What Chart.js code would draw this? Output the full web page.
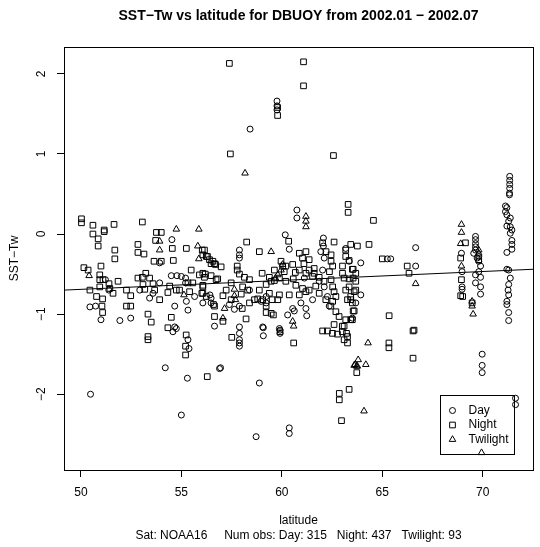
<!DOCTYPE html>
<html>
<head>
<meta charset="utf-8">
<script src="https://cdn.jsdelivr.net/npm/chart.js@4.4.1/dist/chart.umd.min.js"></script>
<style>
	html, body { margin: 0; padding: 0; background: #fff; }
	canvas { display: block; }
</style>
</head>
<body>
<canvas id="sstChart" width="540" height="547"></canvas>
<script>
/* globals Chart:false */
// [latitude, SST-Tw]
const dayObs = [
	[54.53,-0.07],[53.92,-0.36],[51.22,-0.57],[51.39,-0.70],[50.45,-0.91],[50.73,-0.90],[51.00,-1.07],[51.94,-1.08],
	[52.48,-1.05],[53.42,-0.80],[53.59,-0.74],[54.50,-0.52],[54.78,-0.52],[55.00,-0.53],[55.21,-0.55],[55.21,-0.61],
	[55.66,-0.78],[55.25,-0.84],[55.33,-0.95],[54.67,-0.90],[56.48,-0.80],[56.48,-0.86],[56.65,-1.15],[54.67,-1.16],
	[60.75,0.30],[60.75,0.20],[60.17,-0.01],[57.89,-0.20],[57.89,-0.26],[57.89,-0.30],[60.37,-0.19],[62.07,-0.05],
	[62.07,-0.15],[61.94,-0.22],[62.11,-0.30],[62.03,-0.45],[61.86,-0.59],[62.11,-0.66],[62.27,-0.78],[62.36,-0.90],
	[61.12,-0.55],[56.42,-0.76],[57.64,-0.94],[57.89,-0.90],[58.97,-0.84],[59.22,-0.86],[60.29,-1.01],[60.54,-0.93],
	[60.62,-0.96],[60.95,-0.86],[61.24,-1.02],[61.20,-0.93],[63.18,-0.18],[63.35,-0.34],[63.68,-0.86],[57.89,-1.16],
	[59.05,-1.16],[59.88,-1.18],[65.25,-0.31],[65.42,-0.31],[66.66,-0.17],[66.66,-0.40],[63.93,-0.36],[63.93,-0.76],
	[63.51,-1.05],[68.97,-0.47],[68.97,-0.66],[68.94,-0.24],[68.97,-0.69],
	[69.64,-0.03],[69.64,-0.07],[69.64,-0.12],[69.64,-0.16],[69.64,-0.20],[69.55,-0.24],[69.80,-0.28],[69.72,-0.30],
	[69.80,-0.34],[69.89,-0.40],[69.80,-0.47],[69.64,-0.51],[69.89,-0.54],[69.64,-0.61],[69.89,-0.66],[69.89,-0.75],
	[71.33,0.51],[71.33,0.49],[71.13,0.35],[71.20,0.33],[71.13,0.28],[71.20,0.24],[71.37,0.20],[71.29,0.16],
	[71.20,0.10],[71.37,0.09],[71.45,0.05],[71.37,0.01],[71.45,-0.08],[71.45,-0.13],[71.45,-0.19],[71.20,-0.23],
	[71.20,-0.44],[71.29,-0.45],[71.37,-0.55],[71.29,-0.63],[71.26,-0.70],[71.29,-0.76],[71.20,-0.84],[71.20,-0.88],
	[71.29,-0.98],[71.29,-1.08],[71.34,0.72],[71.34,0.67],[71.34,0.62],[71.34,0.57],
	[59.76,1.66],[59.76,1.60],[59.76,1.55],[58.42,1.31],
	[54.75,-1.18],[54.58,-1.22],[55.33,-1.32],[55.38,-1.43],[54.20,-1.67],[55.30,-1.80],[56.90,-1.68],[50.48,-2.00],
	[55.00,-2.26],[57.89,-1.24],[59.08,-1.27],[59.91,-1.20],[59.91,-1.24],[57.89,-1.32],[57.89,-1.36],[57.89,-1.40],
	[56.95,-1.67],[58.88,-1.86],[58.72,-2.53],[60.37,-2.42],[60.37,-2.49],[59.08,-1.17],
	[69.97,-1.50],[69.97,-1.64],[69.97,-1.73],[71.63,-2.05],[71.63,-2.13],
	[61.53,-0.82],[59.22,-0.78],[58.39,-0.70],[57.39,-0.88],[52.93,-0.70],[53.92,-0.61],[56.07,-0.86]
];

const nightObs = [
	[50.03,0.19],[50.03,0.14],[50.60,0.11],[50.60,0.00],[50.86,-0.06],[50.86,-0.15],[51.16,0.05],[51.16,0.03],
	[51.65,0.12],[51.69,-0.20],[51.69,-0.31],[53.06,0.15],[52.84,-0.13],[52.84,-0.23],[53.14,-0.25],[53.76,0.02],
	[54.00,0.02],[53.72,-0.08],[53.64,-0.34],[54.00,-0.34],[54.55,-0.18],[55.25,-0.18],[54.60,-0.33],[56.04,-0.20],
	[56.30,-0.28],[56.57,-0.34],[56.70,-0.38],[50.15,-0.42],[50.36,-0.45],[51.00,-0.40],[50.94,-0.51],[50.94,-0.57],
	[51.10,-0.57],[51.40,-0.62],[51.44,-0.68],[50.94,-0.66],[50.78,-0.78],[51.08,-0.81],[51.05,-0.90],[51.08,-0.98],
	[52.48,-0.77],[52.27,-0.90],[52.48,-0.90],[53.06,-0.54],[53.23,-0.49],[53.42,-0.55],[53.09,-0.63],[53.59,-0.62],
	[53.67,-0.70],[53.92,-0.82],[53.34,-1.00],[53.50,-1.10],[54.33,-0.73],[54.50,-1.04],[54.75,-0.70],[55.33,-0.61],
	[55.57,-0.61],[56.07,-0.64],[56.02,-0.74],[56.19,-0.50],[56.48,-0.52],[56.65,-0.90],[56.65,-1.03],
	[63.30,0.37],[63.30,0.27],[58.25,-0.10],[58.88,-0.22],[60.34,-0.09],[56.15,-0.20],[56.07,-0.26],[56.24,-0.28],
	[56.40,-0.32],[56.48,-0.37],[56.65,-0.37],[56.98,-0.41],[56.07,-0.49],[56.15,-0.54],[56.73,-0.57],[56.07,-0.66],
	[56.07,-0.74],[57.78,-0.40],[57.78,-0.45],[57.89,-0.50],[58.14,-0.54],[58.39,-0.57],[57.48,-0.61],[58.05,-0.66],
	[58.30,-0.70],[57.98,-0.75],[58.80,-0.81],[59.05,-0.82],[57.07,-0.77],[56.60,-0.88],[57.07,-1.09],[58.03,-0.93],
	[59.02,-0.49],[59.38,-0.54],[59.47,-0.59],[59.96,-0.34],[60.04,-0.40],[60.12,-0.47],[59.88,-0.55],[59.63,-0.58],
	[60.20,-0.59],[60.67,-0.48],[60.57,-0.56],[60.70,-0.64],[61.03,-0.68],[61.20,-0.72],[61.36,-0.70],[60.87,-0.76],
	[60.37,-0.76],[59.88,-0.76],[59.80,-0.82],[59.38,-0.74],[59.52,-0.82],[59.22,-0.90],[59.22,-0.98],[59.47,-0.99],
	[59.58,-1.01],[60.87,-0.24],[61.20,-0.22],[61.03,-0.30],[61.36,-0.32],[61.10,-0.37],[61.61,-0.43],[61.36,-0.45],
	[61.61,-0.49],[61.86,-0.54],[62.10,-0.59],[62.03,-0.11],[62.60,-0.10],[62.20,-0.22],[62.45,-0.26],[62.45,-0.34],
	[62.53,-0.40],[62.37,-0.47],[62.45,-0.57],[62.53,-0.66],[62.60,-0.72],[62.69,-0.78],[62.53,-0.84],[63.02,-0.40],
	[63.43,-0.13],[63.55,-0.44],[63.55,-0.55],[63.35,-0.66],[63.68,-0.70],[63.43,-0.78],[63.51,-0.86],[63.55,-0.96],
	[58.22,-1.06],[62.60,-1.13],[63.10,-1.15],
	[64.56,0.17],[64.34,-0.13],[63.76,-0.15],[63.18,-0.20],[65.00,-0.31],[66.24,-0.40],[66.33,-0.49],[65.34,-1.02],
	[66.58,-1.20],[63.02,-0.49],[63.10,-0.55],[63.35,-0.56],[63.51,-0.44],[63.35,-0.33],[63.18,-0.28],[63.60,-0.72],
	[63.43,-0.82],[63.60,-0.96],[63.51,-1.07],[69.14,-0.11],[68.90,-0.30],[68.94,-0.57],[68.90,-0.77],[69.00,-0.78],
	[69.80,-0.32],[69.47,-0.86],
	[57.39,2.13],[61.08,2.15],[61.08,1.85],[59.79,1.58],[59.79,1.48],[57.44,1.00],[62.57,0.98],
	[54.33,-1.17],[53.34,-1.28],[53.34,-1.32],[55.24,-1.26],[55.21,-1.40],[55.21,-1.51],[56.29,-1.78],
	[57.51,-1.29],[59.91,-1.22],[60.59,-1.36],[62.03,-1.21],[62.27,-1.21],[62.52,-1.24],[62.77,-1.25],[63.01,-1.15],
	[63.01,-1.22],[63.10,-1.32],[63.27,-1.28],[63.27,-1.36],[63.73,-1.73],[63.35,-1.94],[62.86,-1.99],[62.86,-2.07],
	[62.97,-2.33],[63.22,-1.24],[65.33,-1.36],[65.33,-1.42],[66.53,-1.21],[66.53,-1.55],
	[56.81,-0.56],[57.23,-0.70],[57.48,-0.82],[58.39,-0.86],[58.64,-0.82],[58.88,-0.70],[59.22,-0.63],[59.63,-0.45],
	[60.20,-0.40],[60.54,-0.38],[60.87,-0.45],[61.20,-0.49],[61.53,-0.53],[61.69,-0.65],[61.86,-0.74],[62.19,-0.82],
	[62.44,-0.90],[62.69,-0.97],[62.85,-1.03],[63.18,-1.07],[63.43,-1.07],[63.68,-0.49],[63.68,-0.59],[63.18,-0.70],
	[63.27,-0.82],[52.84,-0.55],[53.18,-0.69],[52.27,-0.70],[51.85,-0.59],[51.60,-0.74],[50.45,-0.70],[54.42,-0.65],
	[54.91,-0.70],[55.41,-0.72],[56.24,-0.78],[55.90,-0.51],[55.49,-0.45]
];

const twilightObs = [
	[54.75,0.06],[55.87,0.06],[53.92,-0.09],[53.92,-0.20],[55.82,-0.15],[55.87,-0.31],[50.41,-0.52],[55.13,-0.76],
	[61.20,0.22],[61.20,0.16],[61.20,0.09],[59.47,-0.22],[60.04,-0.38],[59.96,-0.45],[59.80,-0.51],[59.68,-0.55],
	[57.64,-0.69],[57.64,-0.77],[57.69,-0.82],[57.15,-0.93],[57.07,-1.05],[60.54,-1.09],[66.66,-0.62],[68.94,0.12],
	[68.94,0.02],[68.90,-0.12],[68.94,-0.40],[69.80,-0.20],[69.80,-0.24],[69.47,-0.84],[69.47,-0.90],[69.52,-1.00],
	[58.17,0.76],[60.59,-1.15],[63.65,-1.63],[63.72,-1.65],[64.29,-1.36],[63.80,-1.57],[63.60,-1.64],[64.18,-1.63],
	[63.76,-1.65],[64.09,-2.21],[69.94,-2.73]
];

// regression line ends [latitude, SST-Tw]
const fitLine = [[49.16, -0.70], [72.5, -0.44]];

const xTicks = [50, 55, 60, 65, 70];
const yTicks = [-2, -1, 0, 1, 2];
const xRange = [49.16, 72.5];
const yRange = [-2.946, 2.3375];
// legend box is anchored at its bottom right corner
const legendAt = [71.55, -2.75];

const MINUS = '\u2212';
const fontFamily = '"Liberation Sans", Arial, Helvetica, sans-serif';
Chart.defaults.font.family = fontFamily;
Chart.defaults.color = '#000';

function toPoints(list) {
	return list.map(p => ({ x: p[0], y: p[1] }));
}

function markerSet(label, list, style, radius) {
	return {
		label: label,
		data: toPoints(list),
		pointStyle: style,
		pointRadius: radius,
		pointHoverRadius: radius,
		pointBorderColor: '#000',
		pointBackgroundColor: 'rgba(0,0,0,0)',
		pointBorderWidth: 1,
		showLine: false
	};
}

// box around the plot region
const plotBox = {
	id: 'plotBox',
	afterDatasetsDraw(chart) {
		const { ctx, chartArea: a } = chart;
		ctx.save();
		ctx.strokeStyle = '#000';
		ctx.lineWidth = 1;
		ctx.strokeRect(Math.round(a.left) + 0.5, Math.round(a.top) + 0.5,
			Math.round(a.right - a.left), Math.round(a.bottom - a.top));
		ctx.restore();
	}
};

const legendBox = {
	id: 'legendBox',
	afterDraw(chart) {
		const { ctx, scales } = chart;
		const right = Math.round(scales.x.getPixelForValue(legendAt[0])) + 0.5;
		const bottom = Math.round(scales.y.getPixelForValue(legendAt[1])) + 0.5;
		const w = 74, h = 59;
		const left = right - w, top = bottom - h;
		ctx.save();
		ctx.strokeStyle = '#000';
		ctx.lineWidth = 1;
		ctx.strokeRect(left, top, w, h);
		ctx.font = '12px ' + fontFamily;
		ctx.textBaseline = 'middle';
		ctx.textAlign = 'left';
		chart.data.datasets.slice(0, 3).forEach((ds, i) => {
			const cy = top + 15 + i * 14.5;
			ctx.fillStyle = 'rgba(0,0,0,0)';
			Chart.helpers.drawPoint(ctx, {
				pointStyle: ds.pointStyle,
				radius: ds.pointRadius,
				borderWidth: 1,
				rotation: 0
			}, left + 12, cy);
			ctx.fillStyle = '#000';
			ctx.fillText(ds.label, left + 28, cy);
		});
		ctx.restore();
	}
};

const tickLabel = v => String(v).replace('-', MINUS);

const ctx = document.getElementById('sstChart');
// eslint-disable-next-line no-unused-vars
const sstChart = new Chart(ctx, {
	type: 'scatter',
	data: {
		datasets: [
			markerSet('Day', dayObs, 'circle', 3),
			markerSet('Night', nightObs, 'rect', 4),
			markerSet('Twilight', twilightObs, 'triangle', 3.8),
			{
				type: 'line',
				label: 'fit',
				data: toPoints(fitLine),
				borderColor: '#000',
				borderWidth: 1,
				pointRadius: 0,
				fill: false
			}
		]
	},
	options: {
		responsive: false,
		animation: false,
		events: [],
		layout: { padding: { top: 0, right: 7, bottom: 0, left: 0 } },
		plugins: {
			legend: { display: false },
			tooltip: { enabled: false },
			title: {
				display: true,
				fullSize: false,
				text: 'SST' + MINUS + 'Tw vs latitude for DBUOY from 2002.01 ' + MINUS + ' 2002.07',
				font: { size: 14, weight: 'bold' },
				color: '#000',
				padding: { top: 8, bottom: 22 }
			}
		},
		scales: {
			x: {
				type: 'linear',
				position: 'bottom',
				min: xRange[0],
				max: xRange[1],
				afterBuildTicks: s => { s.ticks = xTicks.map(v => ({ value: v })); },
				afterFit: s => { s.height = 77; },
				ticks: { font: { size: 12 }, color: '#000', padding: 8, maxRotation: 0, callback: tickLabel },
				grid: { drawOnChartArea: false, drawTicks: true, tickLength: 7, color: '#000' },
				border: { display: false },
				title: {
					display: true,
					text: ['latitude', 'Sat: NOAA16     Num obs: Day: 315   Night: 437   Twilight: 93'],
					font: { size: 12, lineHeight: 1.25 },
					color: '#000',
					padding: { top: 0, bottom: 4 }
				}
			},
			y: {
				type: 'linear',
				position: 'left',
				min: yRange[0],
				max: yRange[1],
				afterBuildTicks: s => { s.ticks = yTicks.map(v => ({ value: v })); },
				afterFit: s => { s.width = 64; },
				ticks: {
					font: { size: 12 }, color: '#000', padding: 8,
					minRotation: 90, maxRotation: 90, crossAlign: 'center',
					callback: tickLabel
				},
				grid: { drawOnChartArea: false, drawTicks: true, tickLength: 7, color: '#000' },
				border: { display: false },
				title: {
					display: true,
					text: 'SST' + MINUS + 'Tw',
					font: { size: 12 },
					color: '#000',
					padding: { top: 7, bottom: 0 }
				}
			}
		}
	},
	plugins: [plotBox, legendBox]
});
</script>
</body>
</html>
